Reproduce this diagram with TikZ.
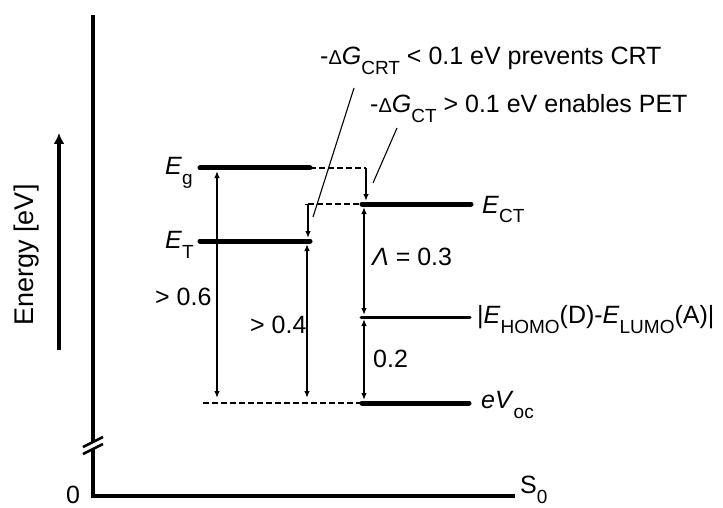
\documentclass[tikz,border=0pt]{standalone}
\usepackage{fontspec}
\setmainfont{Liberation Sans}
\usetikzlibrary{arrows.meta}
\newcommand{\lsub}[1]{\raisebox{-0.4em}{\fontsize{19}{19}\selectfont #1}}
\newcommand{\sDelta}{{\fontsize{20}{20}\selectfont Δ}}
\tikzset{
  axisline/.style={line width=3.2pt},
  level/.style={line width=5pt, line cap=round},
  thinlevel/.style={line width=3pt, line cap=round},
  guide/.style={line width=1.1pt, dash pattern=on 5.5pt off 3.5pt},
  gaparrow/.style={{Latex[length=7pt,width=5.5pt]}-{Latex[length=7pt,width=5.5pt]}, line width=1.3pt},
  downarrow/.style={-{Latex[length=7pt,width=5.5pt]}, line width=1.3pt},
  bararrow/.style={{Bar[width=7pt]}-{Latex[length=7pt,width=5.5pt]}, line width=1.3pt},
  energyarrow/.style={-{Latex[length=11pt,width=11pt]}, line width=3.2pt},
  leader/.style={line width=1.1pt},
  lbl/.style={inner sep=0pt, anchor=base west, font=\fontsize{25}{30}\selectfont}
}
\begin{document}
\begin{tikzpicture}[x=1pt, y=-1pt]
  \useasboundingbox (0,0) rectangle (723,508);
  % axes
  \coordinate (top) at (93,15);
  \coordinate (brk1) at (93,442);
  \coordinate (brk2) at (93,449);
  \coordinate (orig) at (93,496);
  \coordinate (xend) at (515,496);
  \draw[axisline] (top) -- (brk1);
  \draw[axisline] (brk2) -- (orig) -- (xend);
  \draw[axisline, line width=2.6pt] ([shift={(-10,5)}]brk1) -- ([shift={(10,-5)}]brk1);
  \draw[axisline, line width=2.6pt] ([shift={(-10,5)}]brk2) -- ([shift={(10,-5)}]brk2);
  \node[lbl] (zero) at (66,503) {0};
  \node[lbl] (szero) at (520,493) {S\lsub{0}};
  \coordinate (e0) at (59,350);
  \coordinate (e1) at (59,133);
  \draw[energyarrow] (e0) -- (e1);
  \node[lbl, anchor=center, rotate=90, font=\fontsize{27}{30}\selectfont] (energy) at (27,255) {Energy [eV]};
  % levels
  \coordinate (gL) at (200,168); \coordinate (gR) at (310,168);
  \coordinate (tL) at (200,241); \coordinate (tR) at (310,241);
  \coordinate (cL) at (362,204); \coordinate (cR) at (471,204);
  \coordinate (hL) at (361,317); \coordinate (hR) at (470,317);
  \coordinate (vL) at (362,403); \coordinate (vR) at (469,403);
  \coordinate (v0) at (203,403);
  \draw[level] (gL) -- (gR);
  \draw[level] (tL) -- (tR);
  \draw[level] (cL) -- (cR);
  \draw[thinlevel] (hL) -- (hR);
  \draw[level] (vL) -- (vR);
  \node[lbl] (lblg) at (165,175) {\textit{E}\lsub{g}};
  \node[lbl] (lblt) at (165,248) {\textit{E}\lsub{T}};
  \node[lbl] (lblct) at (482,213) {\textit{E}\lsub{CT}};
  \node[lbl] (lblhomo) at (477,323) {|\textit{E}\lsub{HOMO}(D)-\textit{E}\lsub{LUMO}(A)|};
  \node[lbl] (lblvoc) at (481,408) {\textit{eV}\lsub{oc}};
  % guides and gaps
  \coordinate (x6) at (217,0);
  \coordinate (x4) at (307,0);
  \coordinate (xc) at (364,0);
  \coordinate (xs) at (308,0);
  \coordinate (xg) at (366,0);
  \draw[guide] (gR) -- (xg |- gR);
  \draw[guide] (xs |- cL) -- (cL);
  \draw[guide] (v0) -- (vL);
  \draw[downarrow, shorten >=3pt] (xg |- gR) -- (xg |- cL);
  \draw[bararrow, shorten >=3pt] (xs |- cL) -- (xs |- tL);
  \draw[gaparrow, shorten <=3pt, shorten >=5pt] (x6 |- gL) -- (x6 |- vL);
  \draw[gaparrow, shorten <=3pt, shorten >=5pt] (x4 |- tL) -- (x4 |- vL);
  \draw[gaparrow, shorten <=3pt, shorten >=2pt] (xc |- cL) -- (xc |- hL);
  \draw[gaparrow, shorten <=2pt, shorten >=3pt] (xc |- hL) -- (xc |- vL);
  \node[lbl] (lbl06) at (155,305) {> 0.6};
  \node[lbl] (lbl04) at (250,333) {> 0.4};
  \node[lbl] (lbl03) at (372,265) {\textit{Λ} = 0.3};
  \node[lbl] (lbl02) at (373,367) {0.2};
  % notes
  \node[lbl] (crt) at (320,65) {-\sDelta\textit{G}\lsub{CRT} < 0.1 eV prevents CRT};
  \node[lbl] (pet) at (370,113) {-\sDelta\textit{G}\lsub{CT} > 0.1 eV enables PET};
  \coordinate (k1) at (354,88); \coordinate (k2) at (313,217);
  \coordinate (k3) at (397,128); \coordinate (k4) at (373,183);
  \draw[leader] (k1) -- (k2);
  \draw[leader] (k3) -- (k4);
\end{tikzpicture}
\end{document}
